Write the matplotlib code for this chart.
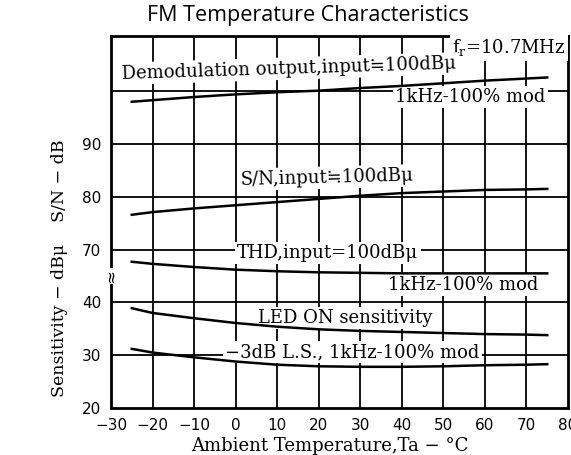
import matplotlib
matplotlib.use('Agg')
import matplotlib.pyplot as plt
import numpy as np

# temperature points (deg C)
temp = [-25, -20, -10, 0, 10, 20, 30, 40, 50, 60, 70, 75]

# upper block, read on the S/N - dB scale
demod_out = [98.0, 98.3, 98.9, 99.4, 99.8, 100.1, 100.6, 101.0, 101.5, 102.0, 102.4, 102.6]
sn_ratio = [76.6, 77.1, 77.8, 78.4, 79.0, 79.6, 80.2, 80.7, 81.0, 81.3, 81.4, 81.5]
thd = [67.7, 67.3, 66.7, 66.2, 65.9, 65.7, 65.6, 65.5, 65.5, 65.5, 65.5, 65.5]

# lower block, read on the Sensitivity - dBu scale
led_on = [38.9, 38.0, 37.0, 36.1, 35.4, 34.9, 34.6, 34.4, 34.2, 34.0, 33.9, 33.8]
ls_3db = [31.2, 30.5, 29.6, 28.8, 28.2, 27.9, 27.8, 27.8, 27.9, 28.1, 28.2, 28.3]

x_ticks = [-30, -20, -10, 0, 10, 20, 30, 40, 50, 60, 70, 80]
sens_ticks = [20, 30, 40]
sn_ticks = [70, 80, 90]

# the axis is broken between 40 and 70: the S/N block is shifted down by 20
SHIFT = 20


def up(vals):
    return np.array(vals) - SHIFT


W, H = 571, 455
fig = plt.figure(figsize=(W / 100, H / 100), dpi=100)
ax = fig.add_axes([111 / W, (H - 408) / H, (568 - 111) / W, (408 - 36) / H])

serif = ['DejaVu Serif', 'DejaVu Sans']
plt.rcParams['mathtext.fontset'] = 'dejavuserif'

ax.set_xlim(-30, 80)
ax.set_ylim(20, 20 + (408 - 36) / 5.28)

# grid
for t in x_ticks[1:-1]:
    ax.axvline(t, color='black', lw=1.3, zorder=1)
for v in [30, 40] + list(up(sn_ticks)) + [up(100)]:
    ax.axhline(v, color='black', lw=1.3, zorder=1)

for s in ax.spines.values():
    s.set_linewidth(2)

# curves
for vals in [up(demod_out), up(sn_ratio), up(thd), led_on, ls_3db]:
    ax.plot(temp, vals, color='black', lw=1.8, zorder=4)

ax.set_xticks(x_ticks)
ax.set_xticklabels([str(t).replace('-', '\u2212') for t in x_ticks])
ax.set_yticks(sens_ticks + list(up(sn_ticks)))
ax.set_yticklabels([str(v) for v in sens_ticks + sn_ticks])
ax.tick_params(length=0, labelsize=11, pad=7)

box = dict(facecolor='white', edgecolor='none', pad=1.5)
lab = dict(family=serif, fontsize=13, zorder=3, bbox=box, va='center')

ax.text(79.5, up(108.2), r'f$_\mathrm{r}$=10.7MHz', ha='right', **lab)
ax.text(-27.3, up(103.3), 'Demodulation output,input\u2252100dB\u03bc',
        ha='left', rotation=1.8, rotation_mode='anchor', **lab)
ax.text(38.4, up(98.9), '1kHz-100% mod', ha='left', **lab)
ax.text(1.1, up(83.2), 'S/N,input\u2252100dB\u03bc', ha='left',
        rotation=1.5, rotation_mode='anchor', **lab)
ax.text(0.4, up(69.4), 'THD,input=100dB\u03bc', ha='left', **lab)
ax.text(36.7, up(63.3), '1kHz-100% mod', ha='left', **lab)
ax.text(5.4, 37.0, 'LED ON sensitivity', ha='left', **lab)
ax.text(-2.5, 30.6, '\u22123dB L.S., 1kHz-100% mod', ha='left', **lab)

# break mark on the left axis
ax.text(-30, 45, '\u2248', rotation=90, ha='center', va='center', fontsize=12,
        bbox=dict(facecolor='white', edgecolor='none', pad=0.5), zorder=5,
        clip_on=False)

fig.text(308 / W, 1 - 16 / H, 'FM Temperature Characteristics', ha='center',
         va='center', family='Open Sans', fontsize=15.5)
fig.text(60 / W, 1 - 268 / H, 'Sensitivity \u2212 dB\u03bc    S/N \u2212 dB',
         rotation=90, ha='center', va='center', family=serif, fontsize=12.5)
fig.text(330 / W, 1 - 446 / H, 'Ambient Temperature,Ta \u2212 \u00b0C',
         ha='center', va='center', family=serif, fontsize=13)

fig.savefig('out.png', dpi=100, facecolor='white')
